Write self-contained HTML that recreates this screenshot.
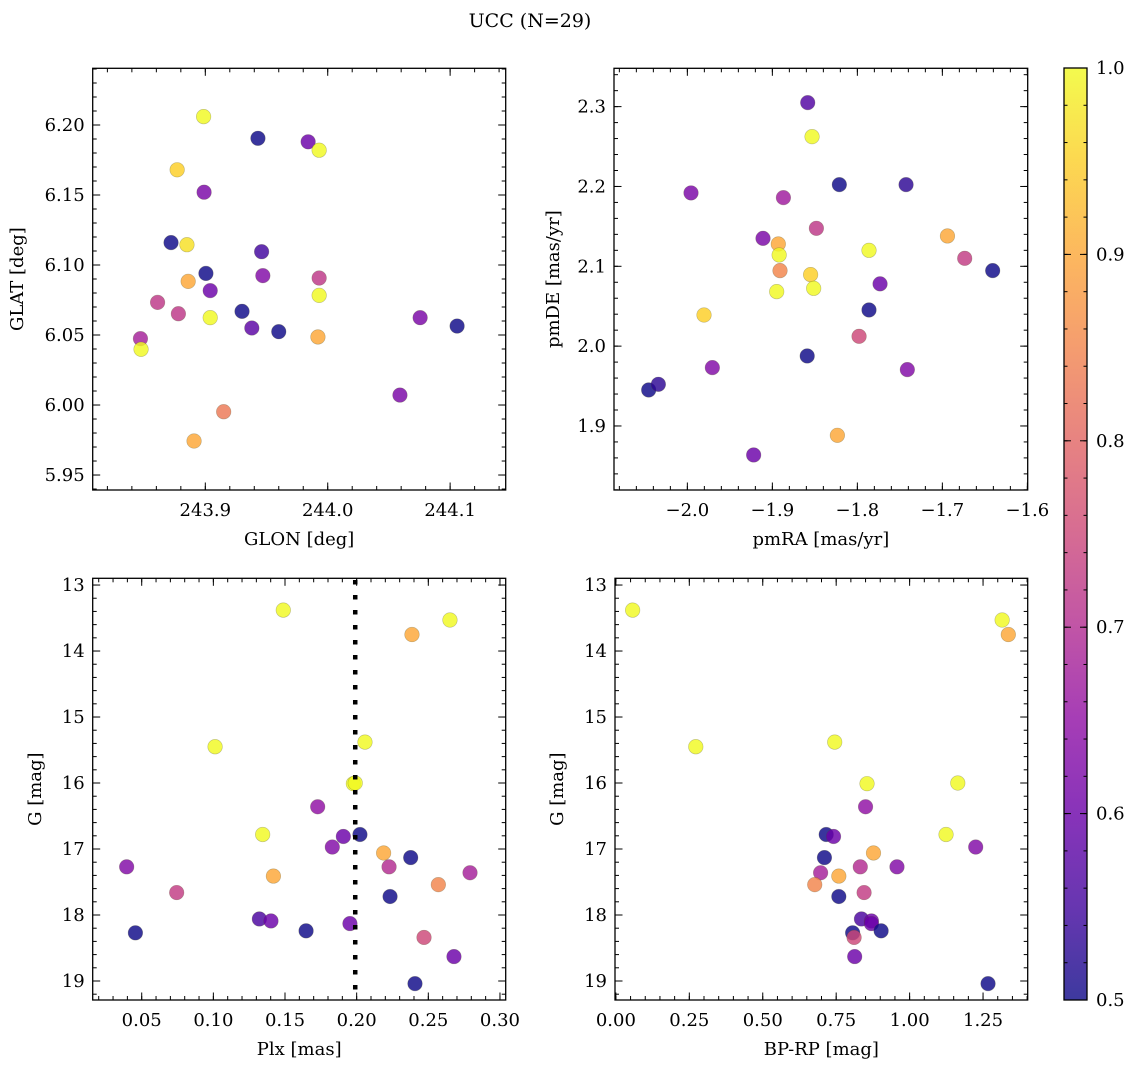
<!DOCTYPE html>
<html><head><meta charset="utf-8"><style>
html,body{margin:0;padding:0;background:#fff;}
svg{display:block;font-family:"DejaVu Serif","Liberation Serif",serif;}
</style></head><body>
<svg id="fig" width="1136" height="1067" viewBox="0 0 1136 1067">
<text x="530" y="27" text-anchor="middle" font-size="19">UCC (N=29)</text>
</svg>
<script>
// Panel 1: GLON / GLAT
const glon=[243.8986,243.943,243.984,243.993,243.877,243.899,243.872,243.885,243.946,243.9005,243.947,243.993,243.886,243.904,243.993,243.861,243.878,243.930,243.904,244.0755,244.1057,243.938,243.960,243.847,243.992,243.8475,244.059,243.915,243.8908];
const glat=[6.206,6.1905,6.188,6.182,6.168,6.152,6.116,6.1145,6.1095,6.094,6.0924,6.0907,6.0883,6.0817,6.0783,6.0733,6.0652,6.0669,6.0624,6.0624,6.0564,6.055,6.0524,6.0474,6.0486,6.0398,6.0071,5.9952,5.9743];
const probP1=[1.0,0.5,0.6,1.0,0.95,0.62,0.5,0.97,0.55,0.5,0.63,0.72,0.9,0.6,1.0,0.72,0.72,0.5,1.0,0.62,0.5,0.58,0.5,0.68,0.9,1.0,0.62,0.83,0.9];
// Panel 2: pmRA / pmDE
const pmra=[-1.8584,-1.8533,-1.9957,-1.8212,-1.7427,-1.887,-1.911,-1.8482,-1.893,-1.694,-1.6737,-1.7863,-1.892,-1.891,-1.6408,-1.855,-1.7733,-1.8514,-1.8949,-1.7863,-1.9804,-1.798,-1.859,-2.0455,-2.0341,-1.9706,-1.7412,-1.8235,-1.922];
const pmde=[2.305,2.2624,2.1919,2.2023,2.2023,2.186,2.135,2.1476,2.128,2.138,2.110,2.120,2.1142,2.0946,2.0946,2.0896,2.078,2.0724,2.0683,2.0453,2.039,2.0123,1.9877,1.9451,1.9522,1.9731,1.9706,1.8883,1.8637];
const probP2=[0.57,1.0,0.62,0.5,0.53,0.67,0.62,0.72,0.9,0.9,0.73,1.0,1.0,0.85,0.5,0.95,0.6,1.0,1.0,0.5,0.95,0.75,0.5,0.5,0.53,0.63,0.63,0.9,0.6];
// Panels 3 & 4: Plx, BP-RP, G
const plx=[0.1488,0.2651,0.2386,0.1012,0.2058,0.1977,0.1728,0.1344,0.2023,0.1907,0.1830,0.2188,0.2377,0.0395,0.2226,0.2791,0.1419,0.2570,0.0744,0.2233,0.1321,0.1402,0.1953,0.1647,0.0456,0.2470,0.2679,0.2407,0.1990];
const bprp=[0.057,1.315,1.336,0.272,0.745,0.855,0.850,1.124,0.716,0.741,1.225,0.877,0.710,0.957,0.832,0.697,0.759,0.677,0.845,0.759,0.836,0.870,0.870,0.903,0.806,0.811,0.813,1.267,1.164];
const gmag=[13.38,13.53,13.75,15.45,15.38,16.01,16.36,16.78,16.78,16.81,16.97,17.06,17.13,17.27,17.27,17.36,17.41,17.54,17.66,17.72,18.06,18.09,18.13,18.24,18.27,18.34,18.63,19.04,16.00];
const probG=[1.0,1.0,0.9,1.0,1.0,1.0,0.65,1.0,0.5,0.6,0.63,0.9,0.5,0.63,0.7,0.68,0.9,0.85,0.73,0.5,0.56,0.6,0.6,0.5,0.5,0.75,0.6,0.5,1.0];
const plxLine=0.199;
// Colorbar ticks
const cbTicks=[0.5,0.6,0.7,0.8,0.9,1.0];

const NS="http://www.w3.org/2000/svg";
const svg=document.getElementById('fig');
function mk(tag,attrs,parent){const e=document.createElementNS(NS,tag);for(const k in attrs)e.setAttribute(k,attrs[k]);(parent||svg).appendChild(e);return e;}
const plasma=[[13,8,135],[65,4,157],[106,0,168],[143,13,164],[177,42,144],[204,71,120],[225,100,98],[242,132,75],[252,166,54],[252,206,37],[240,249,33]];
function cmap(v){let t=(v-0.5)/0.5;t=Math.max(0,Math.min(1,t));const f=t*10,i=Math.min(9,Math.floor(f)),r=f-i;const a=plasma[i],b=plasma[i+1];return 'rgb('+a.map((c,k)=>Math.round(c+(b[k]-c)*r)).join(',')+')';}
function fmt(v,d){let s=v.toFixed(d);return s.replace('-','\u2212');}
const FS=18;

function panel(o){
  const {L,R,T,B,xmin,xmax,ymin,ymax,invY,name}=o;
  const g=mk('g',{});
  
  
  const sx=v=>L+(v-xmin)/(xmax-xmin)*(R-L);
  const sy=v=>invY?T+(v-ymin)/(ymax-ymin)*(B-T):B-(v-ymin)/(ymax-ymin)*(B-T);
  const pg=mk('g',{},g);
  
  
  for(let i=0;i<o.xs.length;i++){
    const c=mk('circle',{cx:sx(o.xs[i]),cy:sy(o.ys[i]),r:7.3,fill:cmap(o.cs[i]),'fill-opacity':0.82,stroke:'rgba(80,80,40,0.35)','stroke-width':0.6},pg);
    
    
  }
  if(o.extra)o.extra(g,sx,sy);
  const fr=mk('rect',{x:L,y:T,width:R-L,height:B-T,fill:'none',stroke:'#000','stroke-width':1.3},g);
  
  
  const eps=1e-9;
  function ticks(min,max,step,len,axis,labelD,labels){
    const s0=Math.ceil((min-eps)/step)*step;
    for(let v=s0;v<=max+eps;v+=step){
      if(axis==='x'){const x=sx(v);mk('line',{x1:x,x2:x,y1:B,y2:B-len,stroke:'#000','stroke-width':1},g);mk('line',{x1:x,x2:x,y1:T,y2:T+len,stroke:'#000','stroke-width':1},g);
        if(labels){const t=mk('text',{x:x,y:B+26,'text-anchor':'middle','font-size':FS},g);t.textContent=fmt(v,labelD);}}
      else{const y=sy(v);mk('line',{x1:L,x2:L+len,y1:y,y2:y,stroke:'#000','stroke-width':1},g);mk('line',{x1:R,x2:R-len,y1:y,y2:y,stroke:'#000','stroke-width':1},g);
        if(labels){const t=mk('text',{x:L-8,y:y+6,'text-anchor':'end','font-size':FS},g);t.textContent=fmt(v,labelD);}}
    }
  }
  ticks(xmin,xmax,o.xmin2,4,'x');ticks(xmin,xmax,o.xmaj,7.5,'x',o.xd,true);
  ticks(Math.min(ymin,ymax),Math.max(ymin,ymax),o.ymin2,4,'y');ticks(Math.min(ymin,ymax),Math.max(ymin,ymax),o.ymaj,7.5,'y',o.yd,true);
  const xl=mk('text',{x:(L+R)/2,y:B+55,'text-anchor':'middle','font-size':FS},g);xl.textContent=o.xlabel;
  
  const yc=(T+B)/2;const yl=mk('text',{x:o.ylx,y:yc,'text-anchor':'middle','font-size':FS,transform:'rotate(-90 '+o.ylx+' '+yc+')'},g);yl.textContent=o.ylabel;
  
}
panel({name:'glon-glat-panel',L:92.7,R:505.7,T:68.3,B:490,xmin:243.808,xmax:244.1454,ymin:5.9393,ymax:6.2405,xs:glon,ys:glat,cs:probP1,xmaj:0.1,xmin2:0.02,xd:1,ymaj:0.05,ymin2:0.01,yd:2,xlabel:'GLON [deg]',ylabel:'GLAT [deg]',ylx:23});
panel({name:'proper-motion-panel',L:614,R:1027.7,T:68.3,B:490,xmin:-2.0863,xmax:-1.5996,ymin:1.8198,ymax:2.348,xs:pmra,ys:pmde,cs:probP2,xmaj:0.1,xmin2:0.02,xd:1,ymaj:0.1,ymin2:0.02,yd:1,xlabel:'pmRA [mas/yr]',ylabel:'pmDE [mas/yr]',ylx:559});
panel({name:'plx-g-panel',L:92.7,R:505.7,T:578.3,B:1000,xmin:0.0158,xmax:0.304,ymin:12.898,ymax:19.288,invY:true,xs:plx,ys:gmag,cs:probG,xmaj:0.05,xmin2:0.01,xd:2,ymaj:1,ymin2:0.2,yd:0,xlabel:'Plx [mas]',ylabel:'G [mag]',ylx:41,
  extra:(g,sx,sy)=>{const x=sx(plxLine);const l=mk('line',{x1:x,x2:x,y1:580,y2:1000,stroke:'#000','stroke-width':4.5,'stroke-dasharray':'4.5 10.5'},g);}});
panel({name:'cmd-panel',L:615,R:1027.7,T:578.3,B:1000,xmin:-0.003,xmax:1.402,ymin:12.898,ymax:19.288,invY:true,xs:bprp,ys:gmag,cs:probG,xmaj:0.25,xmin2:0.05,xd:2,ymaj:1,ymin2:0.2,yd:0,xlabel:'BP-RP [mag]',ylabel:'G [mag]',ylx:563});

(function(){
  const L=1064,R=1087,T=68,B=1000;
  const defs=mk('defs',{});const lg=mk('linearGradient',{id:'cbg',x1:0,y1:1,x2:0,y2:0},defs);
  plasma.forEach((c,i)=>mk('stop',{offset:i/10,'stop-color':'rgb('+c.join(',')+')','stop-opacity':0.8},lg));
  const r=mk('rect',{x:L,y:T,width:R-L,height:B-T,fill:'url(#cbg)',stroke:'#000','stroke-width':1.3});
  
  const sy=v=>B-(v-0.5)/0.5*(B-T);
  for(let v=0.5;v<=1.0001;v+=0.02){const y=sy(v);mk('line',{x1:R,x2:R-3.5,y1:y,y2:y,stroke:'#000','stroke-width':1});mk('line',{x1:L,x2:L+3.5,y1:y,y2:y,stroke:'#000','stroke-width':1});}
  cbTicks.forEach(v=>{const y=sy(v);mk('line',{x1:R,x2:R-7,y1:y,y2:y,stroke:'#000','stroke-width':1});mk('line',{x1:L,x2:L+7,y1:y,y2:y,stroke:'#000','stroke-width':1});
    const t=mk('text',{x:R+9,y:y+6,'font-size':FS});t.textContent=v.toFixed(1);});
})();
</script>
</body></html>
